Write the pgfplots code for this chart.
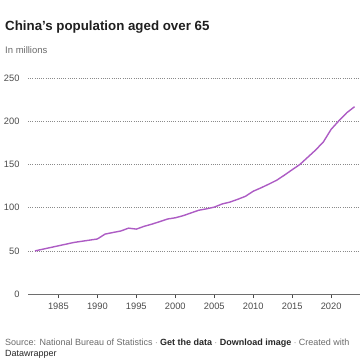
\documentclass[border=0pt]{standalone}
\usepackage{fontspec}
\setmainfont{Liberation Sans}
\usepackage{pgfplots}
\pgfplotsset{compat=1.18}
\definecolor{lineC}{HTML}{AD5CC4}
\definecolor{gridC}{HTML}{8A8A8A}
\definecolor{tickC}{HTML}{4A4A4A}
\definecolor{subC}{HTML}{6A6A6A}
\begin{document}
\begin{tikzpicture}[x=1pt,y=1pt]
\useasboundingbox (0,0) rectangle (360,360);
\node[anchor=base west, inner sep=0pt, font=\bfseries\fontsize{13.3}{16}\selectfont, text=black!88] at (5,330) {China’s population aged over 65};
\node[anchor=base west, inner sep=0pt, font=\fontsize{9.5}{11}\selectfont, text=subC] at (5,306.5) {In millions};
\begin{axis}[
  at={(28pt,66pt)}, anchor=south west, scale only axis,
  width=332pt, height=216pt,
  xmin=1981.1, xmax=2023.7, ymin=0, ymax=250,
  axis x line=bottom, axis y line=left,
  x axis line style={-, tickC!80, line width=0.6pt},
  y axis line style={draw=none},
  xtick={1985,1990,...,2020},
  ytick={0,50,...,250},
  xticklabel style={/pgf/number format/1000 sep={}, font=\fontsize{9.3}{11}\selectfont, text=tickC, yshift=-1pt},
  yticklabel style={font=\fontsize{9.3}{11}\selectfont, text=tickC, anchor=east, xshift=-1pt},
  /pgf/number format/assume math mode=true,
  tick align=outside, major tick length=4pt,
  xtick style={tickC, line width=0.6pt},
  ytick style={draw=none},
  ymajorgrids, major grid style={gridC, line width=0.55pt, dash pattern=on 0.6pt off 1.6pt},
  clip=false,
]
\addplot[lineC, line width=1.4pt, line join=round] coordinates {
(1982,49.91) (1987,59.68) (1990,63.68) (1991,69.38) (1992,71.18) (1993,72.89)
(1994,76.22) (1995,75.10) (1996,78.33) (1997,80.85) (1998,83.75) (1999,86.79)
(2000,88.21) (2001,90.62) (2002,93.77) (2003,96.92) (2004,98.57) (2005,100.55)
(2006,104.19) (2007,106.36) (2008,109.56) (2009,113.07) (2010,118.94) (2011,122.88)
(2012,127.14) (2013,131.61) (2014,137.55) (2015,143.86) (2016,150.03) (2017,158.31)
(2018,166.58) (2019,176.03) (2020,190.64) (2021,200.56) (2022,209.78) (2023,216.76)
};
\end{axis}
\node[anchor=base west, inner sep=0pt, font=\fontsize{9}{10}\selectfont, text=subC] at (5,14.5) {Source: National Bureau of Statistics {\color{tickC}$\cdot$} \textcolor{black!85}{\bfseries Get the data} {\color{tickC}$\cdot$} \textcolor{black!85}{\bfseries Download image} {\color{tickC}$\cdot$} Created with};
\node[anchor=base west, inner sep=0pt, font=\fontsize{9}{10}\selectfont, text=black!85] at (5,3) {Datawrapper};
\end{tikzpicture}
\end{document}
